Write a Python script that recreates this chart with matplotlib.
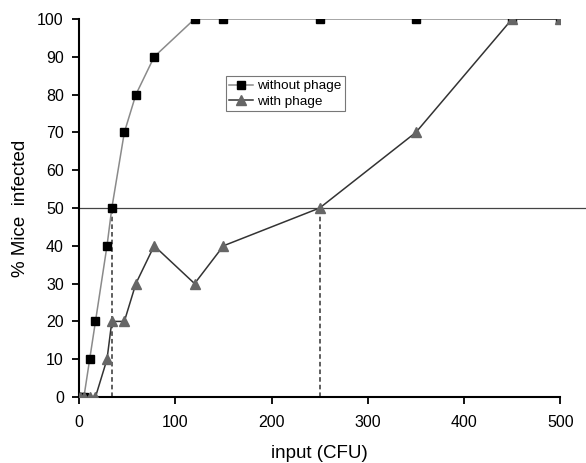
import matplotlib
matplotlib.use('Agg')
import matplotlib.pyplot as plt

# doses (CFU) and % infected
dose = [1, 5, 11, 17, 29, 34, 47, 59, 78, 120, 150, 250, 350, 450, 500]
without_phage = [0, 0, 10, 20, 40, 50, 70, 80, 90, 100, 100, 100, 100, 100, 100]
with_phage = [0, 0, 0, 0, 10, 20, 20, 30, 40, 30, 40, 50, 70, 100, 100]

# 50% infection doses marked with dashed lines
id50 = [34, 250]

plt.rcParams['font.family'] = ['Liberation Sans', 'DejaVu Sans']

fig = plt.figure(figsize=(5.86, 4.63), dpi=100)
ax = fig.add_axes([0.135, 0.1425, 0.821, 0.8165])

ax.plot(dose, without_phage, color='#8a8a8a', lw=1.1, marker='s',
        markersize=6, markerfacecolor='black', markeredgecolor='black',
        label='without phage', zorder=3)
ax.plot(dose, with_phage, color='#333333', lw=1.1, marker='^',
        markersize=7, markerfacecolor='#666666', markeredgecolor='#666666',
        label='with phage', zorder=3)

# 50% reference line, running out to the figure edge
ax.axhline(50, xmin=0, xmax=1.06, color='#444444', lw=0.9, clip_on=False, zorder=1)
for d in id50:
    ax.plot([d, d], [0, 50], color='#333333', lw=1.1, ls=(0, (3, 2)), zorder=1)

ax.set_xlim(0, 500)
ax.set_ylim(0, 100)
ax.set_xticks(range(0, 501, 100))
ax.set_yticks(range(0, 101, 10))

for s in ['top', 'right']:
    ax.spines[s].set_visible(False)
for s in ['left', 'bottom']:
    ax.spines[s].set_linewidth(1.5)
ax.tick_params(direction='out', length=5, width=1.3, labelsize=11.5, pad=6)
ax.tick_params(axis='x', pad=8)

ax.set_xlabel('input (CFU)', fontsize=13.5, labelpad=11)
ax.set_ylabel('% Mice  infected', fontsize=13.5, labelpad=6)

leg = ax.legend(loc='upper left', bbox_to_anchor=(0.305, 0.848), fontsize=9.7,
                frameon=True, fancybox=False, edgecolor='#555555',
                borderpad=0.25, labelspacing=0.25, handlelength=1.8,
                handletextpad=0.3, borderaxespad=0)
leg.get_frame().set_linewidth(0.8)

fig.savefig('out.png', dpi=100)
